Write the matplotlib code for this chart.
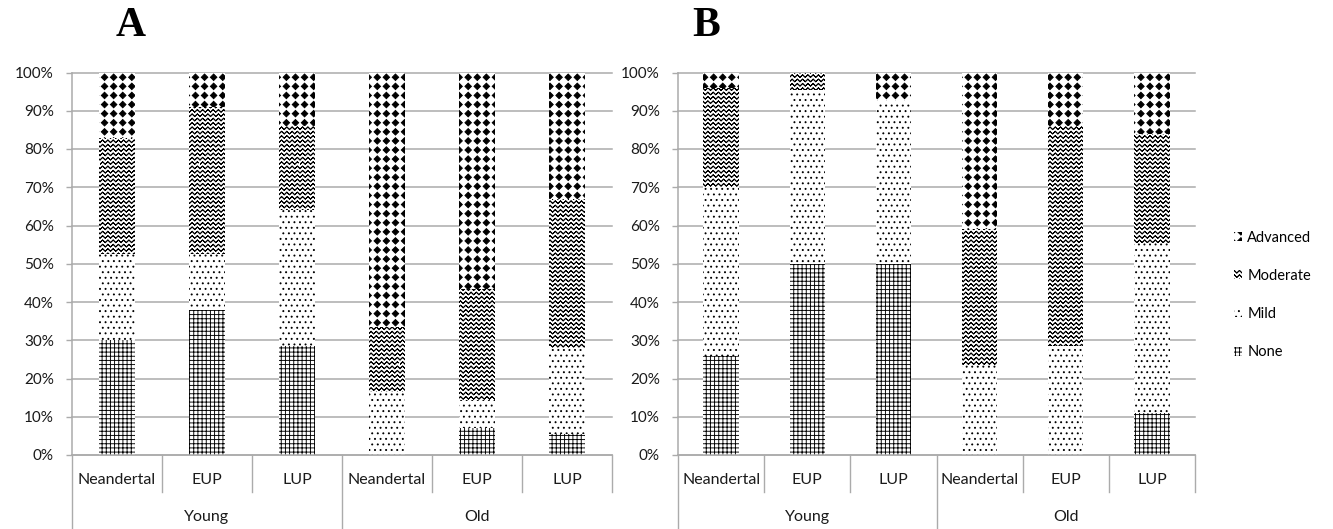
from __future__ import annotations

import warnings

import matplotlib
matplotlib.use("Agg")
import matplotlib.hatch as mhatch
import matplotlib.pyplot as plt
import numpy as np
from matplotlib.patches import Patch
from matplotlib.path import Path
from matplotlib.transforms import blended_transform_factory

warnings.filterwarnings("ignore", message="hatch must consist")

OUT_PNG = "out.png"

CATEGORIES = ["Neandertal", "EUP", "LUP", "Neandertal", "EUP", "LUP"]
GROUPS = ["Young", "Old"]
SEVERITY = ["None", "Mild", "Moderate", "Advanced"]

# percentage of cases per severity class, one value per category
A_NONE = [30.0, 38.0, 28.5, 0.0, 7.0, 5.5]
A_MILD = [22.5, 14.5, 35.5, 16.5, 7.5, 22.5]
A_MODERATE = [30.5, 38.5, 22.0, 17.0, 29.0, 39.0]
A_ADVANCED = [17.0, 9.0, 14.0, 66.5, 56.5, 33.0]

B_NONE = [26.0, 50.0, 50.0, 0.0, 0.0, 11.0]
B_MILD = [44.0, 45.5, 42.5, 23.5, 28.5, 44.5]
B_MODERATE = [26.0, 4.5, 0.0, 35.5, 57.5, 28.5]
B_ADVANCED = [4.0, 0.0, 7.5, 41.0, 14.0, 16.0]

HATCHES = {"None": "++++", "Mild": "...", "Moderate": "z", "Advanced": "d"}

GRID_COLOR = "#ababab"
TEXT_COLOR = "#1a1a1a"
FONT = ["Lato", "DejaVu Sans"]


class Zigzag(mhatch.HatchPatternBase):
    """Horizontal zigzag rows, drawn forward and back so nothing gets filled."""

    rows = 23
    waves = 19
    amp = 0.013

    def __init__(self, hatch, density):
        self.num_lines = hatch.count("z") * self.rows
        self.per_row = 2 * (2 * self.waves + 1)
        self.num_vertices = self.num_lines * self.per_row

    def set_vertices_and_codes(self, vertices, codes):
        n = 2 * self.waves + 1
        xs = np.linspace(0.0, 1.0, n)
        offs = np.where(np.arange(n) % 2 == 0, -self.amp, self.amp)
        for i in range(self.num_lines):
            y0 = (i + 0.5) / self.num_lines
            fwd = np.column_stack([xs, y0 + offs])
            s = slice(i * self.per_row, (i + 1) * self.per_row)
            vertices[s][:n] = fwd
            vertices[s][n:] = fwd[::-1]
            codes[s] = Path.LINETO
            codes[i * self.per_row] = Path.MOVETO


class Diamonds(mhatch.HatchPatternBase):
    """Filled diamonds on a square grid."""

    per_side = 11
    half = 0.36

    def __init__(self, hatch, density):
        self.n = self.per_side if "d" in hatch else 0
        self.num_vertices = self.n * self.n * 5

    def set_vertices_and_codes(self, vertices, codes):
        step = 1.0 / self.n
        r = self.half * step
        unit = np.array([[0, -r], [r, 0], [0, r], [-r, 0], [0, -r]])
        k = 0
        for i in range(self.n):
            for j in range(self.n):
                vertices[k:k + 5] = unit + ((j + 0.5) * step, (i + 0.5) * step)
                codes[k] = Path.MOVETO
                codes[k + 1:k + 4] = Path.LINETO
                codes[k + 4] = Path.CLOSEPOLY
                k += 5


mhatch._hatch_types.extend([Zigzag, Diamonds])
plt.rcParams["hatch.linewidth"] = 0.65


def draw_panel(ax, series, letter, letter_x):
    x = np.arange(len(CATEGORIES))
    bottom = np.zeros(len(CATEGORIES))
    for name, vals in zip(SEVERITY, series):
        ax.bar(x, vals, width=0.41, bottom=bottom, color="white", edgecolor="black",
               linewidth=0, hatch=HATCHES[name], zorder=2)
        bottom += np.asarray(vals)

    ax.set_xlim(-0.5, len(CATEGORIES) - 0.5)
    ax.set_ylim(0, 100)
    ax.set_yticks(range(0, 101, 10))
    ax.set_yticklabels([f"{v}%" for v in range(0, 101, 10)], family=FONT,
                       fontsize=11, color=TEXT_COLOR)
    ax.set_xticks([])
    ax.tick_params(axis="y", length=4, width=1, color=GRID_COLOR, pad=9)
    ax.yaxis.grid(True, color=GRID_COLOR, linewidth=1.1, zorder=0)
    for line in ax.get_ygridlines():
        line.set_clip_on(False)
    ax.set_axisbelow(True)
    for side in ("top", "right"):
        ax.spines[side].set_visible(False)
    for side in ("left", "bottom"):
        ax.spines[side].set_color(GRID_COLOR)
        ax.spines[side].set_linewidth(1.1)

    # two-level category axis below the plot
    trans = blended_transform_factory(ax.transData, ax.transAxes)
    for i, label in enumerate(CATEGORIES):
        ax.text(i, -0.065, label, transform=trans, ha="center", va="center",
                family=FONT, fontsize=11.5, color=TEXT_COLOR)
    for i, label in enumerate(GROUPS):
        ax.text(i * 3 + 1, -0.162, label, transform=trans, ha="center", va="center",
                family=FONT, fontsize=11.5, color=TEXT_COLOR)
    for edge in np.arange(-0.5, len(CATEGORIES)):
        long_line = edge in (-0.5, 2.5)
        ax.plot([edge, edge], [0, -0.21 if long_line else -0.097], transform=trans,
                color=GRID_COLOR, linewidth=1.0, clip_on=False)

    ax.figure.text(letter_x, 0.95, letter, ha="center", va="center",
                   family="Liberation Serif", fontweight="bold", fontsize=30)


def main() -> None:
    fig = plt.figure(figsize=(13.33, 5.29), dpi=100)
    h = 382.5 / 529
    ax_a = fig.add_axes([72 / 1333, 74 / 529, 540 / 1333, h])
    ax_b = fig.add_axes([678 / 1333, 74 / 529, 517 / 1333, h])

    draw_panel(ax_a, [A_NONE, A_MILD, A_MODERATE, A_ADVANCED], "A", 131 / 1333)
    draw_panel(ax_b, [B_NONE, B_MILD, B_MODERATE, B_ADVANCED], "B", 706 / 1333)

    handles = [Patch(facecolor="white", edgecolor="black", linewidth=0,
                     hatch=HATCHES[name], label=name) for name in reversed(SEVERITY)]
    fig.legend(handles=handles, loc="center left", bbox_to_anchor=(1227 / 1333, 1 - 295 / 529),
               frameon=False, handlelength=0.55, handleheight=0.55, handletextpad=0.35,
               labelspacing=1.66, prop={"family": FONT, "size": 10.5}, borderpad=0)

    fig.savefig(OUT_PNG, dpi=100)
    plt.close(fig)


if __name__ == "__main__":
    main()
